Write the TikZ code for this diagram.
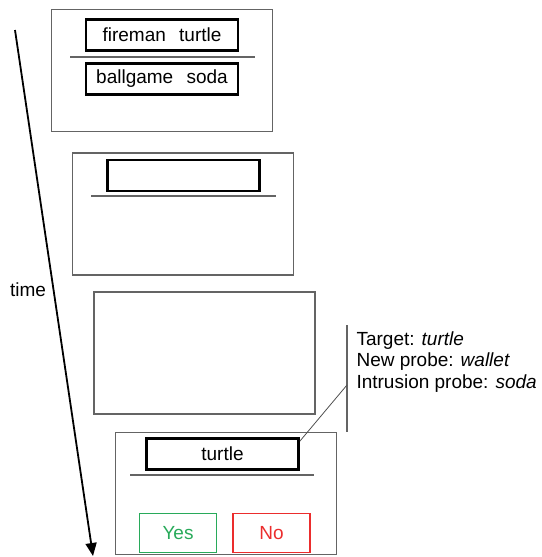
\documentclass[tikz,border=0pt]{standalone}
\definecolor{frameGray}{RGB}{100,100,100}
\definecolor{yesGreen}{RGB}{40,170,90}
\definecolor{noRed}{RGB}{235,45,45}
\usepackage{fontspec}
\setmainfont{Liberation Sans}
\usetikzlibrary{arrows.meta,positioning}

\begin{document}
\begin{tikzpicture}[x=1pt, y=-1pt,
  screen/.style={draw=frameGray, line width=1.5pt, minimum width=221pt, minimum height=122pt,
                 inner sep=0pt},
  wordbox/.style={draw, line width=2.8pt, minimum width=152pt, minimum height=31pt,
                  inner sep=0pt, font=\fontsize{19}{21}\selectfont},
  keybox/.style={draw=#1, line width=1.5pt, text=#1, minimum width=77pt, minimum height=39pt,
                 inner sep=0pt, font=\fontsize{19}{21}\selectfont},
  rule/.style={frameGray, line width=1.8pt},
  arr/.style={-{Triangle[length=13pt, width=11pt]}, line width=1.8pt}
]
  \useasboundingbox (0,0) rectangle (541,557);

  % study screen
  \node[screen] (study) at (162,70.5) {};
  \node[wordbox] (pair1) at (162,35) {fireman\hspace{0.7em}turtle};
  \node[wordbox] (pair2) at (162,79) {ballgame\hspace{0.7em}soda};
  \draw[rule] (70,57) -- (255,57);

  % blank response screen
  \node[screen] (recall) at (183,214) {};
  \node[wordbox] (blank) at (183.5,175.5) {};
  \draw[rule] (91,196) -- (276,196);

  % empty delay screen
  \node[screen] (delay) at (204.5,353) {};

  % recognition test screen
  \node[screen] (test) at (226,493.5) {};
  \node[wordbox] (cue) at (222.5,454) {turtle};
  \draw[rule] (130,475) -- (314,475);
  \node[keybox=yesGreen] (yes) at (178,533) {Yes};
  \node[keybox=noRed]    (no)  at (271.5,533) {No};

  % probe legend
  \coordinate (barTop) at (347,325);
  \coordinate (barBot) at (347,432);
  \coordinate (barMid) at (347,385);
  \draw[frameGray, line width=1.2pt] (barTop) -- (barBot);
  \node[anchor=west, align=left, font=\fontsize{19}{21.5}\selectfont] (legend) at (353,362)
    {Target: \textit{turtle}\\New probe: \textit{wallet}\\Intrusion probe: \textit{soda}};
  \draw[line width=0.8pt, frameGray!80!black] (cue.north east) ++(0,4) -- (barMid);

  % time axis
  \coordinate (tStart) at (15,30);
  \coordinate (tEnd) at (93,556);
  \draw[arr] (tStart) -- (tEnd);
  \node[font=\fontsize{19}{21}\selectfont] (time) at (28,290) {time};
\end{tikzpicture}
\end{document}
